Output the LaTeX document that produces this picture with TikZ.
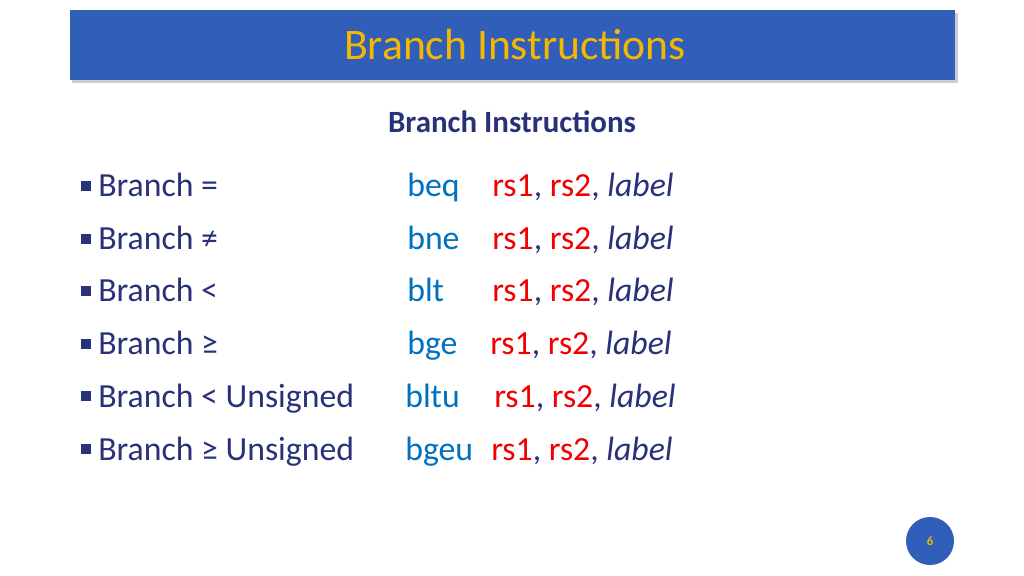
\documentclass[tikz,border=0pt]{standalone}
\usepackage{fontspec}
\setmainfont{Carlito}
\usetikzlibrary{positioning}
\definecolor{barblue}{RGB}{48,94,184}
\definecolor{titleorange}{RGB}{245,184,0}
\definecolor{navy}{RGB}{40,50,120}
\definecolor{opblue}{RGB}{0,112,192}
\definecolor{regred}{RGB}{240,0,0}
\tikzset{
  item/.style={anchor=base west, inner sep=0pt, text=navy, font=\fontsize{24}{28}\selectfont},
  op/.style={item, text=opblue},
  bulletbox/.style={fill=navy, minimum size=6.5pt, inner sep=0pt},
}
\newcommand{\regs}{\textcolor{regred}{rs1}, \textcolor{regred}{rs2}, \textit{label}}
\begin{document}
\begin{tikzpicture}[x=0.025cm, y=-0.025cm]
  \useasboundingbox (0,0) rectangle (1024,576);
  % title bar
  \fill[gray!40] (72,13) rectangle (958,83);
  \fill[barblue] (70,10) rectangle (955,80);
  \node[text=titleorange, font=\fontsize{31}{36}\selectfont] (title) at (515,45) {Branch Instructions};
  \node[text=navy, font=\bfseries\fontsize{22}{26}\selectfont] (subtitle) at (512,122) {Branch Instructions};
  % rows
  \foreach \n/\y/\name/\opx/\mn/\rx in {
      1/197/{Branch =}/407/beq/492,
      2/250/{Branch ≠}/407/bne/492,
      3/302/{Branch <}/407/blt/492,
      4/355/{Branch ≥}/407/bge/490,
      5/407/{Branch < Unsigned}/405/bltu/494,
      6/460/{Branch ≥ Unsigned}/405/bgeu/491} {
    \node[bulletbox] (b\n) at (86,\y-11) {};
    \node[item] (t\n) at (98,\y) {\name};
    \node[op] (m\n) at (\opx,\y) {\mn};
    \node[item] (r\n) at (\rx,\y) {\regs};
  }
  % page number
  \node[circle, fill=barblue, minimum size=48\pgflinewidth*0+1.2cm, text=titleorange, font=\bfseries\small] (page) at (930,541) {6};
\end{tikzpicture}
\end{document}
